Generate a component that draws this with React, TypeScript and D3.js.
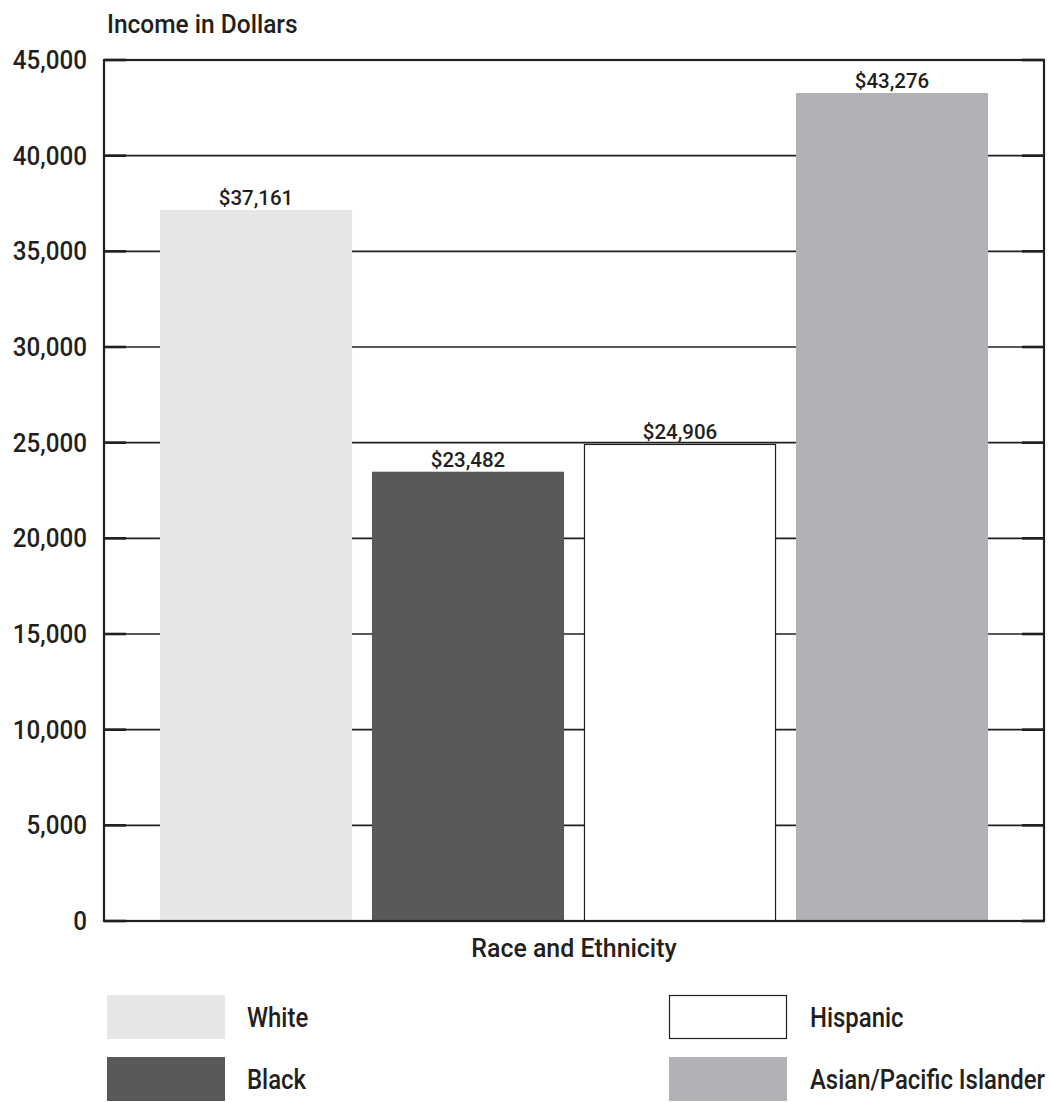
import React, { useEffect, useRef } from "react";
import * as d3 from "d3";

const categories = ["White", "Black", "Hispanic", "Asian/Pacific Islander"];
const incomes = [37161, 23482, 24906, 43276];
const fills = ["#e5e6e8", "#58595b", "#ffffff", "#b1b2b5"];
const outlined = [false, false, true, false];
const yTicks = [0, 5000, 10000, 15000, 20000, 25000, 30000, 35000, 40000, 45000];

const W = 1050;
const H = 1102;
const FONT = "Roboto, 'Liberation Sans', sans-serif";
const INK = "#231f20";

// Places a label at (x, y) with a horizontal squeeze to get a condensed face.
function label(
  parent: any,
  x: number,
  y: number,
  text: string,
  size: number,
  sx: number,
  anchor: "start" | "middle" | "end" = "start",
  dy = "0"
) {
  return parent
    .append("text")
    .attr("transform", `translate(${x},${y}) scale(${sx},1)`)
    .attr("dy", dy)
    .attr("text-anchor", anchor)
    .attr("font-family", FONT)
    .attr("font-weight", 500)
    .attr("font-size", size)
    .attr("fill", INK)
    .text(text);
}

export default function App() {
  const ref = useRef<SVGSVGElement>(null);

  useEffect(() => {
    const svg = d3.select(ref.current);
    svg.selectAll("*").remove();

    const left = 104, right = 1044, top = 60, bottom = 921;
    const x = d3.scaleBand<string>().domain(categories).range([left, right]).paddingInner(0.094).paddingOuter(0.264);
    const y = d3.scaleLinear().domain([0, 45000]).range([bottom, top]);
    const fmt = d3.format(",");

    // horizontal gridlines with heavier tick stubs at both ends
    const grid = svg.append("g");
    yTicks.forEach((t) => {
      grid.append("line").attr("x1", left).attr("x2", right).attr("y1", y(t)).attr("y2", y(t))
        .attr("stroke", INK).attr("stroke-width", 1.6);
      grid.append("line").attr("x1", left).attr("x2", left + 22).attr("y1", y(t)).attr("y2", y(t))
        .attr("stroke", INK).attr("stroke-width", 2.6);
      grid.append("line").attr("x1", right - 22).attr("x2", right).attr("y1", y(t)).attr("y2", y(t))
        .attr("stroke", INK).attr("stroke-width", 2.6);
    });

    // bars
    const data = categories.map((c, i) => ({ c, v: incomes[i], fill: fills[i], outline: outlined[i] }));
    svg.append("g").selectAll("rect").data(data).join("rect")
      .attr("x", (d) => x(d.c)! + (d.outline ? 0.5 : 0))
      .attr("width", (d) => x.bandwidth() - (d.outline ? 1 : 0))
      .attr("y", (d) => y(d.v))
      .attr("height", (d) => bottom - y(d.v))
      .attr("fill", (d) => d.fill)
      .attr("stroke", (d) => (d.outline ? INK : "none"))
      .attr("stroke-width", 1.2);

    // value labels above each bar
    const vl = svg.append("g");
    data.forEach((d) => {
      label(vl, x(d.c)! + x.bandwidth() / 2, y(d.v) - 5, "$" + fmt(d.v), 20.5, 1.0, "middle");
    });

    // frame
    svg.append("rect").attr("x", left).attr("y", top).attr("width", right - left).attr("height", bottom - top)
      .attr("fill", "none").attr("stroke", INK).attr("stroke-width", 2.2);

    // y tick labels
    const yl = svg.append("g");
    yTicks.forEach((t) => {
      label(yl, 87, y(t), fmt(t), 25, 0.97, "end", "0.36em");
    });

    label(svg, 107, 33, "Income in Dollars", 25, 0.98);
    label(svg, (left + right) / 2, 957, "Race and Ethnicity", 26.5, 0.94, "middle");

    // legend, two columns
    const legendPos = [
      { sx: 107, sy: 995, tx: 247 },
      { sx: 107, sy: 1057, tx: 247 },
      { sx: 669, sy: 995, tx: 810 },
      { sx: 669, sy: 1057, tx: 810 },
    ];
    const lg = svg.append("g");
    data.forEach((d, i) => {
      const p = legendPos[i];
      lg.append("rect").attr("x", p.sx + (d.outline ? 0.5 : 0)).attr("y", p.sy + (d.outline ? 0.5 : 0))
        .attr("width", 118 - (d.outline ? 1 : 0)).attr("height", 44 - (d.outline ? 1 : 0))
        .attr("fill", d.fill).attr("stroke", d.outline ? INK : "none").attr("stroke-width", 1.2);
      label(lg, p.tx, p.sy + 32, d.c, 27.5, 0.87);
    });
  }, []);

  return (
    <svg ref={ref} width={W} height={H} style={{ position: "absolute", left: 0, top: 0, background: "#fff" }} />
  );
}
